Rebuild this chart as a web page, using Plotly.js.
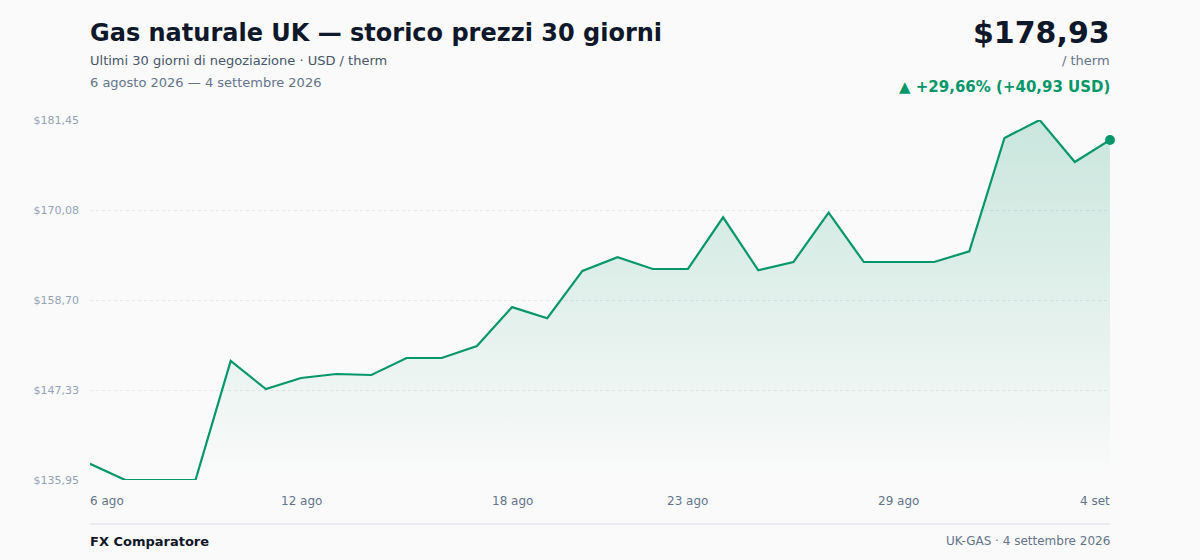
<!DOCTYPE html>
<html>
<head>
<meta charset="utf-8">
<script src="https://cdn.plot.ly/plotly-3.0.1.min.js"></script>
<style>
  html, body { margin: 0; padding: 0; background: #fafafa; }
  #chart { width: 1200px; height: 560px; }
</style>
</head>
<body>
<div id="chart"></div>
<script>
// ---- data ----
const dates = [
  '2026-08-06','2026-08-07','2026-08-08','2026-08-09','2026-08-10','2026-08-11','2026-08-12','2026-08-13','2026-08-14','2026-08-15',
  '2026-08-16','2026-08-17','2026-08-18','2026-08-19','2026-08-20','2026-08-21','2026-08-22','2026-08-23','2026-08-24','2026-08-25',
  '2026-08-26','2026-08-27','2026-08-28','2026-08-29','2026-08-30','2026-08-31','2026-09-01','2026-09-02','2026-09-03','2026-09-04'
];
const prices = [
  138.00, 135.95, 135.95, 135.95, 150.99, 147.45, 148.84, 149.35, 149.22, 151.37,
  151.37, 152.89, 157.80, 156.40, 162.37, 164.10, 162.62, 162.62, 169.15, 162.45,
  163.50, 169.75, 163.50, 163.50, 163.50, 164.85, 179.17, 181.45, 176.14, 178.93
];
const yTickVals = [135.95, 147.325, 158.70, 170.075, 181.45];
const yTickText = ['$135,95', '$147,33', '$158,70', '$170,08', '$181,45'];
const xTickDates = ['2026-08-06', '2026-08-12', '2026-08-18', '2026-08-23', '2026-08-29', '2026-09-04'];
const xTickText = ['6 ago', '12 ago', '18 ago', '23 ago', '29 ago', '4 set'];

const titleText = 'Gas naturale UK — storico prezzi 30 giorni';
const subtitleText = 'Ultimi 30 giorni di negoziazione · USD / therm';
const periodText = '6 agosto 2026 — 4 settembre 2026';
const priceText = '$178,93';
const unitText = '/ therm';
const changeText = '▲ +29,66% (+40,93 USD)';
const footerLeft = 'FX Comparatore';
const footerRight = 'UK-GAS · 4 settembre 2026';

// ---- chart ----
const GREEN = '#059669';
const FONT = 'DejaVu Sans, sans-serif';
const yMin = Math.min(...prices), yMax = Math.max(...prices);
const last = prices.length - 1;

const traces = [
  {
    x: dates, y: prices, type: 'scatter', mode: 'lines',
    line: { color: GREEN, width: 2.2 },
    fill: 'tozeroy',
    fillgradient: {
      type: 'vertical',
      start: yMin, stop: yMax,
      colorscale: [[0, 'rgba(5,150,105,0.0)'], [1, 'rgba(5,150,105,0.2)']]
    },
    hoverinfo: 'skip'
  },
  {
    x: [dates[last]], y: [prices[last]], type: 'scatter', mode: 'markers',
    marker: { color: GREEN, size: 10 },
    cliponaxis: false,
    hoverinfo: 'skip'
  }
];

const pxToPaperY = py => (480 - py) / 360;

const annotations = [
  { text: titleText, x: 0, y: pxToPaperY(33), xanchor: 'left', yanchor: 'middle',
    font: { family: FONT, size: 24, color: '#0f172a', weight: 'bold' } },
  { text: subtitleText, x: 0, y: pxToPaperY(61), xanchor: 'left', yanchor: 'middle',
    font: { family: FONT, size: 13, color: '#475569' } },
  { text: periodText, x: 0, y: pxToPaperY(83), xanchor: 'left', yanchor: 'middle',
    font: { family: FONT, size: 13, color: '#64748b' } },
  { text: priceText, x: 1, y: pxToPaperY(32), xanchor: 'right', yanchor: 'middle',
    font: { family: FONT, size: 30, color: '#0f172a', weight: 'bold' } },
  { text: unitText, x: 1, y: pxToPaperY(61), xanchor: 'right', yanchor: 'middle',
    font: { family: FONT, size: 13, color: '#64748b' } },
  { text: changeText, x: 1, y: pxToPaperY(87), xanchor: 'right', yanchor: 'middle',
    font: { family: FONT, size: 15, color: GREEN, weight: 'bold' } },
  { text: footerLeft, x: 0, y: pxToPaperY(541), xanchor: 'left', yanchor: 'middle',
    font: { family: FONT, size: 13, color: '#0f172a', weight: 'bold' } },
  { text: footerRight, x: 1, y: pxToPaperY(541), xanchor: 'right', yanchor: 'middle',
    font: { family: FONT, size: 12, color: '#64748b' } }
].map(a => Object.assign({ xref: 'paper', yref: 'paper', showarrow: false, borderpad: 0, borderwidth: 0 }, a));

xTickDates.forEach((d, i) => {
  annotations.push({
    text: xTickText[i], x: d, xref: 'x', y: pxToPaperY(501), yref: 'paper',
    xanchor: i === 0 ? 'left' : (i === xTickDates.length - 1 ? 'right' : 'center'),
    yanchor: 'middle', showarrow: false, borderpad: 0, borderwidth: 0,
    font: { family: FONT, size: 12, color: '#64748b' }
  });
});

const layout = {
  width: 1200, height: 560,
  paper_bgcolor: '#fafafa', plot_bgcolor: '#fafafa',
  margin: { l: 90, r: 90, t: 120, b: 80 },
  showlegend: false,
  font: { family: FONT },
  xaxis: {
    type: 'date', range: [dates[0], dates[last]],
    showgrid: false, zeroline: false, showline: false,
    showticklabels: false, ticks: '', fixedrange: true
  },
  yaxis: {
    range: [yMin, yMax],
    tickvals: yTickVals, ticktext: yTickText,
    showgrid: true, gridcolor: '#e2e8f0', griddash: 'dot', gridwidth: 1,
    zeroline: false, showline: false, ticks: '',
    ticklabelstandoff: 10,
    tickfont: { family: FONT, size: 11, color: '#94a3b8' },
    fixedrange: true
  },
  shapes: [
    { type: 'line', xref: 'paper', yref: 'paper', x0: 0, x1: 1,
      y0: pxToPaperY(524), y1: pxToPaperY(524),
      line: { color: '#e5e7eb', width: 1.5 } }
  ],
  annotations: annotations
};

Plotly.newPlot('chart', traces, layout, { staticPlot: true, displayModeBar: false });
</script>
</body>
</html>
